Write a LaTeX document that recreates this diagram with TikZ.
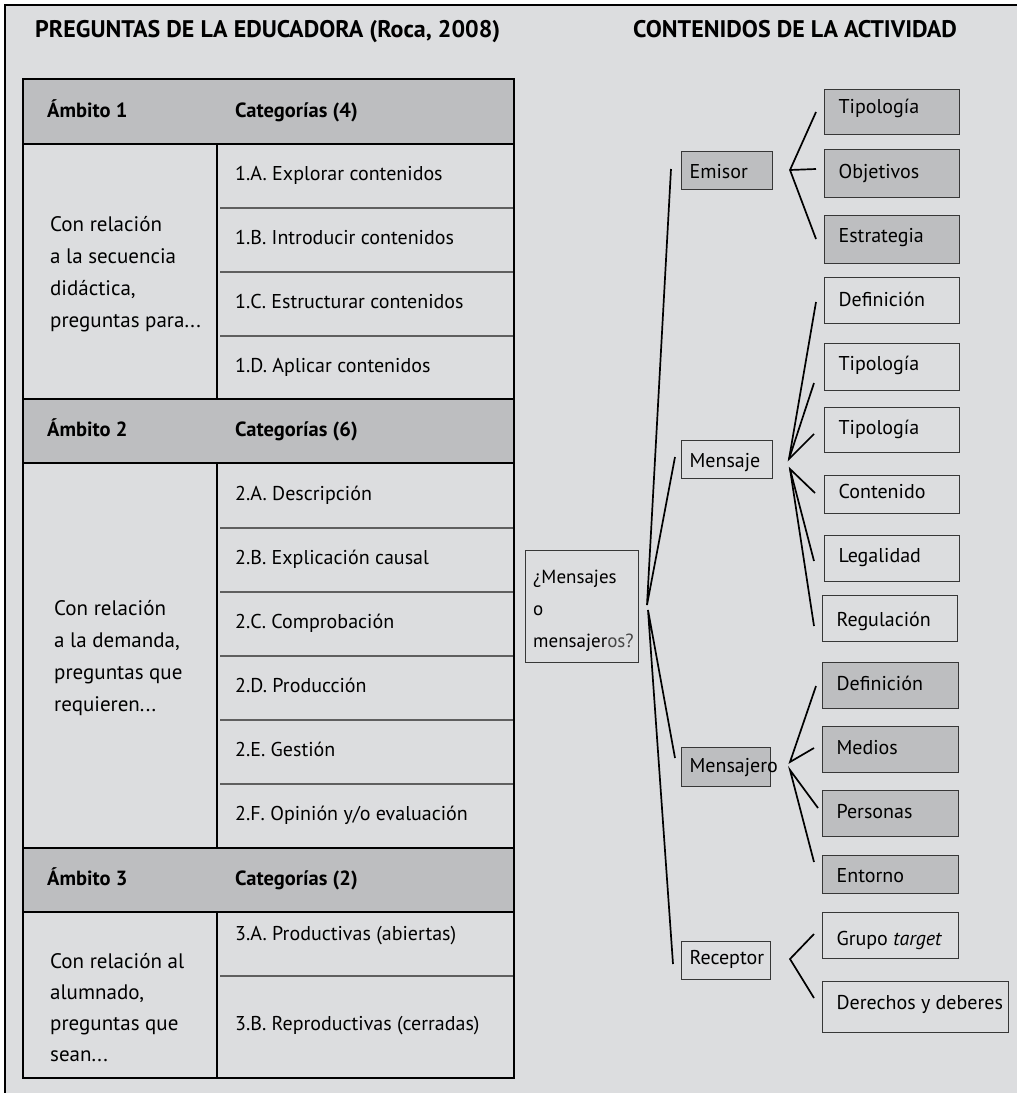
\documentclass[tikz,border=0pt]{standalone}
\usepackage{fontspec}
\setmainfont{PT Sans}
\definecolor{bg}{RGB}{220,221,223}
\definecolor{hdr}{RGB}{189,190,192}
\definecolor{edge}{RGB}{55,55,55}
\definecolor{rowline}{RGB}{95,95,95}
\definecolor{lite}{RGB}{70,70,70}
\newcommand{\bx}[8]{\node[#6, minimum height=#5pt, text height={(10+#7)*1pt}, text depth={(10-#7)*1pt}] (#1) at (#2,#3) {\makebox[\dimexpr#4pt-28pt\relax][l]{#8}};}
\newcommand{\tl}[4]{\node[txt] (#1) at (#2,#3) {#4};}
\newcommand{\lcol}[4]{\node[ltxt] (#1) at (#2,#3) {#4};}
\newcommand{\hl}[4]{\node[hd] (#1) at (#2,#3) {#4};}
\newcommand{\qt}[4]{\node[qtxt] (#1) at (#2,#3) {#4};}
\begin{document}
\begin{tikzpicture}[x=1pt,y=-1pt,
  txt/.style={font=\fontsize{20}{20}\selectfont, inner sep=0pt, anchor=base west},
  ltxt/.style={txt, font=\fontsize{21}{21}\selectfont},
  qtxt/.style={txt, font=\fontsize{19}{19}\selectfont},
  hd/.style={txt, font=\bfseries\fontsize{20.5}{20.5}\selectfont},
  ttl/.style={font=\bfseries\fontsize{24}{24}\selectfont, inner sep=0pt, anchor=base west},
  box/.style={draw=edge, line width=1.2pt, anchor=north west, inner xsep=14pt, inner ysep=0pt,
     font=\fontsize{20}{20}\selectfont},
  gbox/.style={box, fill=hdr},
  mbox/.style={box, inner xsep=8pt},
  gmbox/.style={mbox, fill=hdr},
  tree/.style={line width=1.7pt, black},
  outer/.style={line width=1.5pt, black},
  inner/.style={line width=1.2pt, rowline}]
\useasboundingbox (0,0) rectangle (1017,1093);
% frame
\fill[bg] (5,5) rectangle (1017,1093);
\draw[outer] (1017,5) -- (5,5) -- (5,1093);
% titles
\node[ttl] (t1) at (35,37) {PREGUNTAS DE LA EDUCADORA (Roca, 2008)};
\node[ttl] (t2) at (633,37) {CONTENIDOS DE LA ACTIVIDAD};
% table
\fill[hdr] (23,79) rectangle (514,144);
\fill[hdr] (23,399) rectangle (514,463);
\fill[hdr] (23,848) rectangle (514,912);
\foreach \y in {208,272,336,528,592,656,720,784,976}
  \draw[inner] (220,\y) -- (514,\y);
\draw[outer] (217,144) -- (217,399);
\draw[outer] (217,463) -- (217,848);
\draw[outer] (217,912) -- (217,1078);
\foreach \y in {144,399,463,848,912}
  \draw[outer] (23,\y) -- (514,\y);
\draw[outer] (23,79) rectangle (514,1078);
% table texts
\hl{a1}{47}{117}{Ámbito 1}
\hl{c1}{235}{117}{Categorías (4)}
\hl{a2}{47}{436}{Ámbito 2}
\hl{c2}{235}{436}{Categorías (6)}
\hl{a3}{47}{885}{Ámbito 3}
\hl{c3}{235}{885}{Categorías (2)}
\tl{r1a}{235}{180}{1.A. Explorar contenidos}
\tl{r1b}{235}{244}{1.B. Introducir contenidos}
\tl{r1c}{235}{308}{1.C. Estructurar contenidos}
\tl{r1d}{235}{372}{1.D. Aplicar contenidos}
\tl{r2a}{235}{500}{2.A. Descripción}
\tl{r2b}{235}{564}{2.B. Explicación causal}
\tl{r2c}{235}{628}{2.C. Comprobación}
\tl{r2d}{235}{692}{2.D. Producción}
\tl{r2e}{235}{756}{2.E. Gestión}
\tl{r2f}{235}{820}{2.F. Opinión y/o evaluación}
\tl{r3a}{235}{940}{3.A. Productivas (abiertas)}
\tl{r3b}{235}{1030}{3.B. Reproductivas (cerradas)}
\lcol{s1a}{50}{231}{Con relación}
\lcol{s1b}{50}{263}{a la secuencia}
\lcol{s1c}{50}{295}{didáctica,}
\lcol{s1d}{50}{327}{preguntas para...}
\lcol{s2a}{54}{615}{Con relación}
\lcol{s2b}{54}{647}{a la demanda,}
\lcol{s2c}{54}{679}{preguntas que}
\lcol{s2d}{54}{711}{requieren...}
\lcol{s3a}{50}{968}{Con relación al}
\lcol{s3b}{50}{999}{alumnado,}
\lcol{s3c}{50}{1030}{preguntas que}
\lcol{s3d}{50}{1061}{sean...}
% central question
\node[draw=edge, line width=1.2pt, anchor=north west, minimum width=113pt, minimum height=112pt,
  inner sep=0pt] (q) at (525,550) {};
\qt{q1}{533}{583}{¿Mensajes}
\qt{q2}{533}{615}{o}
\qt{q3}{533}{647}{mensajer{\color{lite}os?}}
% second level
\bx{em}{681}{151}{103}{38}{gmbox}{8}{Emisor}
\bx{ms}{681}{440}{103}{38}{mbox}{8}{Mensaje}
\bx{mj}{681}{747}{101}{39}{gmbox}{5.5}{Mensajero}
\bx{rc}{681}{941}{101}{38}{mbox}{4}{Receptor}
% third level
\bx{e1}{824}{89}{135}{45}{gbox}{1.5}{Tipología}
\bx{e2}{824}{149}{135}{48}{gbox}{5}{Objetivos}
\bx{e3}{824}{215}{135}{48}{gbox}{3}{Estrategia}
\bx{m1}{824}{277}{135}{46}{box}{6}{Definición}
\bx{m2}{824}{343}{135}{47}{box}{3.5}{Tipología}
\bx{m3}{824}{407}{135}{45}{box}{4.5}{Tipología}
\bx{m4}{824}{475}{135}{38}{box}{4}{Contenido}
\bx{m5}{824}{535}{135}{46}{box}{4}{Legalidad}
\bx{m6}{822}{595}{135}{46}{box}{8}{Regulación}
\bx{j1}{822}{662}{136}{46}{gbox}{5}{Definición}
\bx{j2}{822}{726}{136}{46}{gbox}{5}{Medios}
\bx{j3}{822}{790}{136}{46}{gbox}{5}{Personas}
\bx{j4}{822}{855}{136}{38}{gbox}{8}{Entorno}
\bx{g1}{822}{912}{136}{46}{box}{10}{Grupo \textit{target}}
\bx{g2}{822}{981}{186}{51}{box}{2.5}{Derechos y deberes}
% connector coordinates
\coordinate (qU) at (647,605);
\coordinate (qD) at (648,610);
\coordinate (tEm) at (671,169);
\coordinate (tMs) at (675,457);
\coordinate (tMj) at (675,758);
\coordinate (tRc) at (673,964);
\coordinate (aEm) at (790,170);
\coordinate (aMsU) at (789,459);
\coordinate (aMsD) at (790,469);
\coordinate (aMjU) at (790,762);
\coordinate (aMjD) at (790,770);
\coordinate (aRc) at (790,959);
\coordinate (pe1) at (816,112);
\coordinate (pe2) at (816,169);
\coordinate (pe3) at (816,239);
\coordinate (pm1) at (816,302);
\coordinate (pm2) at (814,383);
\coordinate (pm3) at (814,434);
\coordinate (pm4) at (815,493);
\coordinate (pm5) at (814,561);
\coordinate (pm6) at (814,626);
\coordinate (pj1) at (816,686);
\coordinate (pj2) at (814,748);
\coordinate (pj3) at (818,808);
\coordinate (pj4) at (814,862);
\coordinate (pg1) at (814,934);
\coordinate (pg2) at (814,998);
% connectors
\draw[tree] (tEm) -- (qU) -- (tMs);
\draw[tree] (tMj) -- (qD) -- (tRc);
\draw[tree] (pe1) -- (aEm) -- (pe3);
\draw[tree] (aEm) -- (pe2);
\draw[tree] (pm1) -- (aMsU) -- (pm3);
\draw[tree] (aMsU) -- (pm2);
\draw[tree] (pm4) -- (aMsD) -- (pm6);
\draw[tree] (aMsD) -- (pm5);
\draw[tree] (pj1) -- (aMjU) -- (pj2);
\draw[tree] (pj3) -- (aMjD) -- (pj4);
\draw[tree] (pg1) -- (aRc) -- (pg2);
\end{tikzpicture}
\end{document}
